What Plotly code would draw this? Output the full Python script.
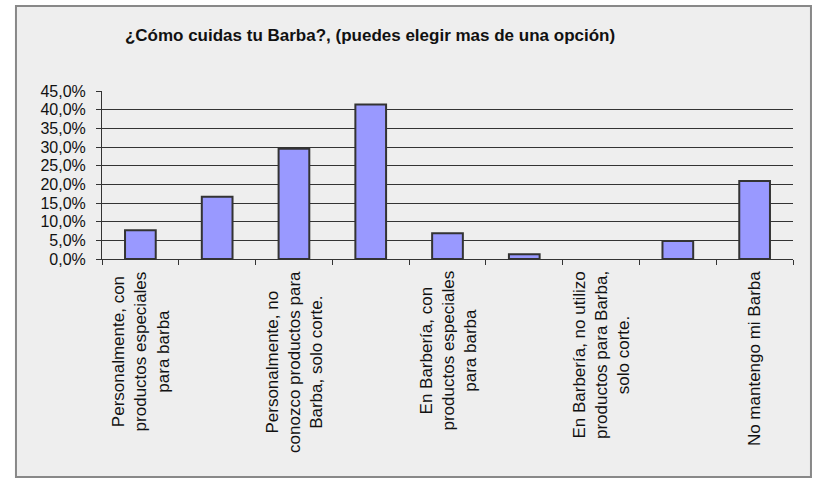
import plotly.graph_objects as go

# survey answers, left to right (only every other label is printed on the chart)
labels = [
    "Personalmente, con<br>productos especiales<br>para barba",
    "",
    "Personalmente, no<br>conozco productos para<br>Barba, solo corte.",
    "",
    "En Barbería, con<br>productos especiales<br>para barba",
    "",
    "En Barbería, no utilizo<br>productos para Barba,<br>solo corte.",
    "",
    "No mantengo mi Barba",
]
values = [0.077, 0.167, 0.295, 0.414, 0.069, 0.013, 0.0, 0.048, 0.209]
y_ticks = [i * 0.05 for i in range(10)]

title = "¿Cómo cuidas tu Barba?, (puedes elegir mas de una opción)"
positions = list(range(len(values)))
font_family = "Liberation Sans, Arial, sans-serif"

fig = go.Figure()
fig.add_trace(go.Bar(x=positions, y=values, width=0.4,
                     marker=dict(color="#9999FF", line=dict(color="#333333", width=[2 if v > 0 else 0 for v in values])),
                     hoverinfo="skip"))

# category labels, rotated and centered under each bar
for pos, text in zip(positions, labels):
    if not text: continue
    fig.add_annotation(x=pos, xref="x", y=0, yref="paper", text=text, textangle=-90,
                       showarrow=False, xanchor="center", yanchor="top", yshift=-10, align="center",
                       font=dict(family=font_family, size=17, color="#111111"))

# outer chart frame
fig.add_shape(type="rect", xref="paper", yref="paper", x0=-0.1245, x1=1.026, y0=-1.298, y1=1.506,
              fillcolor="#EEEEEE", line=dict(color="#888888", width=2), layer="below")

fig.update_layout(
    width=815, height=479, autosize=False, showlegend=False, separators=",.",
    paper_bgcolor="white", plot_bgcolor="rgba(0,0,0,0)",
    margin=dict(l=102, r=22, t=91, b=220),
    font=dict(family=font_family, size=16, color="#111111"),
    title=dict(text="<b>" + title + "</b>", x=370 / 815, xanchor="center", y=1 - 35 / 479, yanchor="middle",
               font=dict(family=font_family, size=17, color="#111111")),
    xaxis=dict(range=[-0.5, len(values) - 0.5], tickmode="array", tickvals=[p - 0.5 for p in positions] + [len(values) - 0.5],
               showticklabels=False, ticks="outside", ticklen=5, tickcolor="#333333", showgrid=False, zeroline=False,
               showline=True, linecolor="#333333", linewidth=1, fixedrange=True),
    yaxis=dict(range=[0, 0.45], tickmode="array", tickvals=y_ticks, tickformat=".1%", ticks="outside", ticklen=5,
               ticklabelstandoff=7, tickcolor="#333333", showgrid=True, gridcolor="#333333", gridwidth=1, zeroline=False,
               showline=True, linecolor="#333333", linewidth=1, fixedrange=True, automargin=False),
)

fig.write_html("out.html", config={"displayModeBar": False},
               post_script="document.body.style.margin='0';document.body.style.overflow='hidden';")
